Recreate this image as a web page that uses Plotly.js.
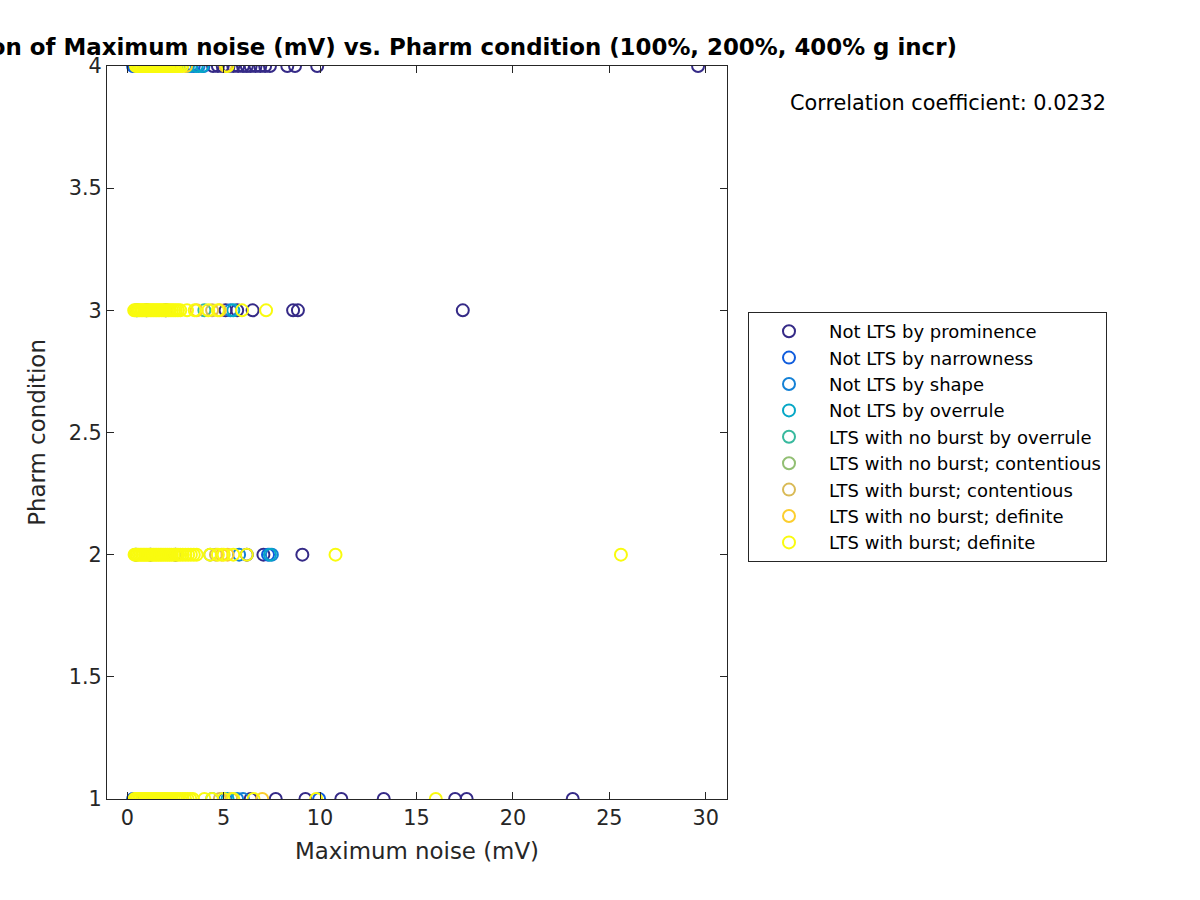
<!DOCTYPE html>
<html>
<head>
<meta charset="utf-8">
<script src="https://cdn.plot.ly/plotly-3.0.1.min.js"></script>
<style>html,body{margin:0;padding:0;background:#fff;}#chart{width:1200px;height:900px;}</style>
</head>
<body>
<div id="chart"></div>
<script>
// Category names (legend order)
const categories = [
  "Not LTS by prominence",
  "Not LTS by narrowness",
  "Not LTS by shape",
  "Not LTS by overrule",
  "LTS with no burst by overrule",
  "LTS with no burst; contentious",
  "LTS with burst; contentious",
  "LTS with no burst; definite",
  "LTS with burst; definite"
];
const colors = ["#352a87","#0f5cdd","#1481d6","#06a7c6","#38b99e","#92bf73","#d9ba56","#fcce2e","#f9fb0e"];

// Maximum noise (mV) values and Pharm condition values, per category
const promX = [0.6,1.4,2.2,4.45,4.7,4.95,5.25,5.5,5.75,6.0,6.2,6.4,6.65,6.9,7.15,7.4,8.3,8.7,9.85,29.6,
               1.0,2.0,5.1,5.7,6.5,8.6,8.85,17.4,
               1.2,2.5,6.2,7.06,9.08,
               0.8,1.9,6.4,7.7,9.24,11.1,13.3,17.0,17.6,23.1];
const promY = [4,4,4,4,4,4,4,4,4,4,4,4,4,4,4,4,4,4,4,4,
               3,3,3,3,3,3,3,3,
               2,2,2,2,2,
               1,1,1,1,1,1,1,1,1,1];
const narrX = [0.3,0.38,0.45,0.55,3.45,3.95, 0.5, 0.45,7.3, 0.3,0.4,5.05,9.95];
const narrY = [4,4,4,4,4,4, 3, 2,2, 1,1,1,1];
const shapeX = [3.3,3.7, 5.35, 5.8,7.5, 5.7,6.0];
const shapeY = [4,4, 3, 2,2, 1,1];
const overX = [3.15,3.6,3.9, 5.5, 7.4, 5.2];
const overY = [4,4,4, 3, 2, 1];
const noBurstOverX = [4.0, 4.4];
const noBurstOverY = [3, 1];
const noBurstContX = [4.3];
const noBurstContY = [2];
const burstContX = [4.4, 4.6, 4.8];
const burstContY = [3, 2, 1];
const noBurstDefX = [3.05,5.1, 3.6,4.8, 4.9,5.2, 7.0,5.4];
const noBurstDefY = [4,4, 3,3, 2,2, 1,1];
const burstDefX = [
  0.45,0.52,0.6,0.67,0.74,0.82,0.9,0.97,1.05,1.12,1.2,1.28,1.35,1.43,1.5,1.58,1.66,1.74,1.82,1.9,1.98,2.06,2.15,2.24,2.33,2.42,2.52,2.62,2.73,2.85,5.2,
  0.36,0.43,0.5,0.58,0.65,0.73,0.8,0.88,0.96,1.04,1.12,1.2,1.28,1.36,1.44,1.52,1.6,1.68,1.77,1.86,1.95,2.04,2.13,2.22,2.32,2.42,2.52,2.63,2.75,3.1,3.5,4.2,4.7,5.95,7.2,
  0.38,0.45,0.52,0.6,0.68,0.76,0.84,0.92,1.0,1.08,1.17,1.26,1.35,1.44,1.53,1.62,1.71,1.8,1.9,2.0,2.1,2.2,2.3,2.41,2.52,2.63,2.75,2.88,3.02,3.16,3.3,3.45,3.6,4.3,4.7,5.0,5.5,6.2,10.8,25.6,
  0.38,0.45,0.52,0.6,0.68,0.76,0.84,0.92,1.0,1.08,1.17,1.26,1.35,1.44,1.53,1.62,1.71,1.8,1.9,2.0,2.1,2.2,2.3,2.41,2.52,2.63,2.75,2.88,3.0,3.13,3.27,3.4,4.0,4.4,5.0,5.5,6.55,9.8,16.0
];
const burstDefY = [
  4,4,4,4,4,4,4,4,4,4,4,4,4,4,4,4,4,4,4,4,4,4,4,4,4,4,4,4,4,4,4,
  3,3,3,3,3,3,3,3,3,3,3,3,3,3,3,3,3,3,3,3,3,3,3,3,3,3,3,3,3,3,3,3,3,3,3,
  2,2,2,2,2,2,2,2,2,2,2,2,2,2,2,2,2,2,2,2,2,2,2,2,2,2,2,2,2,2,2,2,2,2,2,2,2,2,2,2,
  1,1,1,1,1,1,1,1,1,1,1,1,1,1,1,1,1,1,1,1,1,1,1,1,1,1,1,1,1,1,1,1,1,1,1,1,1,1,1
];

const xTicks = [0,5,10,15,20,25,30];
const yTicks = [1,1.5,2,2.5,3,3.5,4];
const yTickText = ["1","1.5","2","2.5","3","3.5","4"];
const corrText = "Correlation coefficient: 0.0232";

const seriesX = [promX,narrX,shapeX,overX,noBurstOverX,noBurstContX,burstContX,noBurstDefX,burstDefX];
const seriesY = [promY,narrY,shapeY,overY,noBurstOverY,noBurstContY,burstContY,noBurstDefY,burstDefY];

const font = "DejaVu Sans, Liberation Sans, sans-serif";
const traces = categories.map((name,i)=>({
  type: "scatter", mode: "markers", name: name,
  x: seriesX[i], y: seriesY[i],
  marker: {symbol: "circle-open", size: 12, color: colors[i], line: {width: 2, color: colors[i]}},
  hoverinfo: "x+y+name"
}));

const axisCommon = {
  showgrid: false, zeroline: false, showline: true, linecolor: "#262626", linewidth: 1,
  mirror: "ticks", ticks: "inside", ticklen: 7, tickcolor: "#262626", tickwidth: 1,
  tickfont: {family: font, size: 20.8, color: "#262626"}, automargin: false
};

const layout = {
  width: 1200, height: 900,
  paper_bgcolor: "#fff", plot_bgcolor: "#fff",
  margin: {l: 107, r: 473, t: 66, b: 101, pad: 0},
  showlegend: true,
  title: {
    text: "<b>Correlation of Maximum noise (mV) vs. Pharm condition (100%, 200%, 400% g incr)</b>",
    font: {family: font, size: 22.9, color: "#000"},
    x: 417/1200, xref: "container", xanchor: "center",
    y: 1 - 47/900, yref: "container", yanchor: "middle"
  },
  xaxis: Object.assign({}, axisCommon, {
    range: [-1.05, 31.1], tickvals: xTicks, ticktext: xTicks.map(String),
    title: {text: "Maximum noise (mV)", font: {family: font, size: 22.9, color: "#262626"}, standoff: 14}
  }),
  yaxis: Object.assign({}, axisCommon, {
    range: [1, 4], tickvals: yTicks, ticktext: yTickText,
    title: {text: "Pharm condition", font: {family: font, size: 22.9, color: "#262626"}, standoff: 16}
  }),
  legend: {
    x: (748-107)/620, y: (799-312)/733, xanchor: "left", yanchor: "top",
    xref: "paper", yref: "paper",
    bgcolor: "#fff", bordercolor: "#262626", borderwidth: 1,
    font: {family: font, size: 18, color: "#000"},
    itemwidth: 70, traceorder: "normal"
  },
  annotations: [{
    text: corrText, xref: "paper", yref: "paper",
    x: (948-107)/620, y: (799-103)/733, xanchor: "center", yanchor: "middle",
    showarrow: false, font: {family: font, size: 20.8, color: "#000"}
  }]
};

Plotly.newPlot("chart", traces, layout, {displayModeBar: false, staticPlot: true});
</script>
</body>
</html>
